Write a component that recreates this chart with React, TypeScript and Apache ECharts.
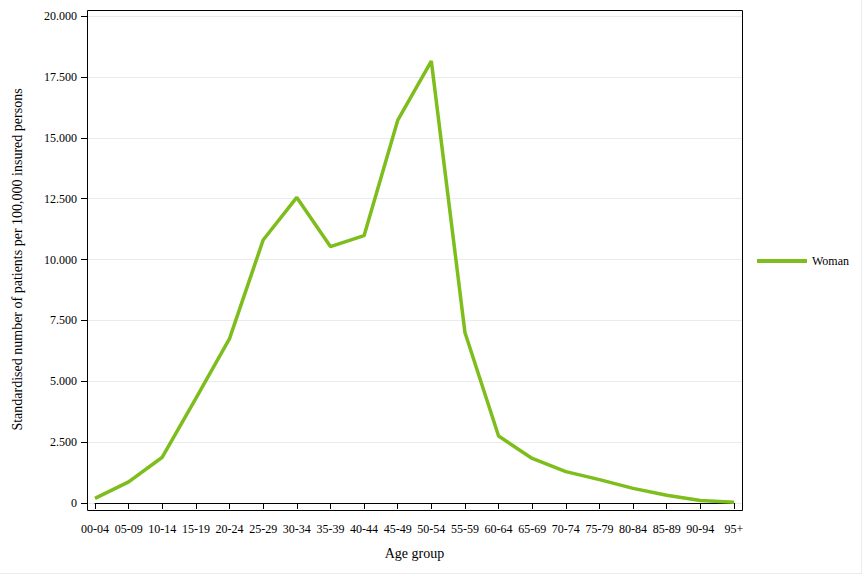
import React, { useEffect, useRef } from "react";
import * as echarts from "echarts";

const ageGroups = [
  "00-04", "05-09", "10-14", "15-19", "20-24", "25-29", "30-34", "35-39", "40-44", "45-49",
  "50-54", "55-59", "60-64", "65-69", "70-74", "75-79", "80-84", "85-89", "90-94", "95+",
];
const womanValues = [
  190, 870, 1880, 4300, 6750, 10800, 12550, 10530, 10980, 15710,
  18150, 7000, 2750, 1830, 1290, 960, 600, 320, 100, 30,
];
const yMin = 0;
const yMax = 20000;
const yStep = 2500;
const seriesName = "Woman";
const xTitle = "Age group";
const yTitle = "Standardised number of patients per 100,000 insured persons";

const FONT = "'Liberation Serif', 'Times New Roman', serif";

function fmt(v: number): string {
  return String(Math.round(v)).replace(/\B(?=(\d{3})+(?!\d))/g, ".");
}

export default function App() {
  const ref = useRef<HTMLDivElement>(null);
  useEffect(() => {
    if (!ref.current) return;
    const chart = echarts.init(ref.current, null, { renderer: "svg" });
    chart.setOption({
      animation: false,
      backgroundColor: "#ffffff",
      textStyle: { fontFamily: FONT, color: "#000" },
      grid: [
        { left: 87, top: 16, width: 656, height: 487 },
        { left: 95, top: 16, width: 639, height: 487 },
      ],
      legend: {
        data: [seriesName],
        left: 757,
        top: 254,
        padding: 0,
        icon: "rect",
        itemWidth: 50,
        itemHeight: 4,
        textStyle: { fontFamily: FONT, fontSize: 12, color: "#000", lineHeight: 14 },
      },
      xAxis: [
        {
          gridIndex: 0,
          type: "category",
          data: ageGroups,
          show: false,
        },
        {
          gridIndex: 1,
          type: "category",
          data: ageGroups,
          boundaryGap: false,
          position: "bottom",
          offset: 8,
          name: xTitle,
          nameLocation: "middle",
          nameGap: 35,
          nameTextStyle: { fontFamily: FONT, fontSize: 14, color: "#000" },
          axisLine: { show: true, lineStyle: { color: "#000", width: 1 } },
          axisTick: { show: true, length: 6, lineStyle: { color: "#000" }, interval: 0 },
          axisLabel: { interval: 0, margin: 12, fontFamily: FONT, fontSize: 12, color: "#000" },
          splitLine: { show: false },
        },
      ],
      yAxis: [
        {
          gridIndex: 0,
          type: "value",
          min: yMin,
          max: yMax,
          interval: yStep,
          name: yTitle,
          nameLocation: "middle",
          nameGap: 63,
          nameTextStyle: { fontFamily: FONT, fontSize: 14, color: "#000" },
          axisLine: { show: true, lineStyle: { color: "#000", width: 1 } },
          axisTick: { show: true, length: 6, lineStyle: { color: "#000" } },
          axisLabel: {
            margin: 10,
            fontFamily: FONT,
            fontSize: 12,
            color: "#000",
            formatter: (v: number) => fmt(v),
          },
          splitLine: { show: true, lineStyle: { color: "#ebebeb", width: 1 } },
        },
        {
          gridIndex: 1,
          type: "value",
          min: yMin,
          max: yMax,
          interval: yStep,
          show: false,
          splitLine: { show: false },
        },
      ],
      graphic: [
        {
          type: "rect",
          shape: { x: 87.5, y: 10.5, width: 655, height: 500 },
          style: { fill: "none", stroke: "#000", lineWidth: 1 },
          silent: true,
          z: 50,
        },
        {
          type: "line",
          shape: { x1: 861.5, y1: 0, x2: 861.5, y2: 574 },
          style: { stroke: "#ececec", lineWidth: 1 },
          silent: true,
        },
        {
          type: "line",
          shape: { x1: 0, y1: 573.5, x2: 862, y2: 573.5 },
          style: { stroke: "#ececec", lineWidth: 1 },
          silent: true,
        },
      ],
      series: [
        {
          name: seriesName,
          type: "line",
          xAxisIndex: 1,
          yAxisIndex: 1,
          data: womanValues,
          symbol: "none",
          lineStyle: { color: "#7dbd1c", width: 3.5 },
          itemStyle: { color: "#7dbd1c" },
          z: 10,
        },
      ],
    });
    return () => chart.dispose();
  }, []);
  return (
    <div
      ref={ref}
      style={{ position: "absolute", left: 0, top: 0, width: 864, height: 576 }}
    />
  );
}
